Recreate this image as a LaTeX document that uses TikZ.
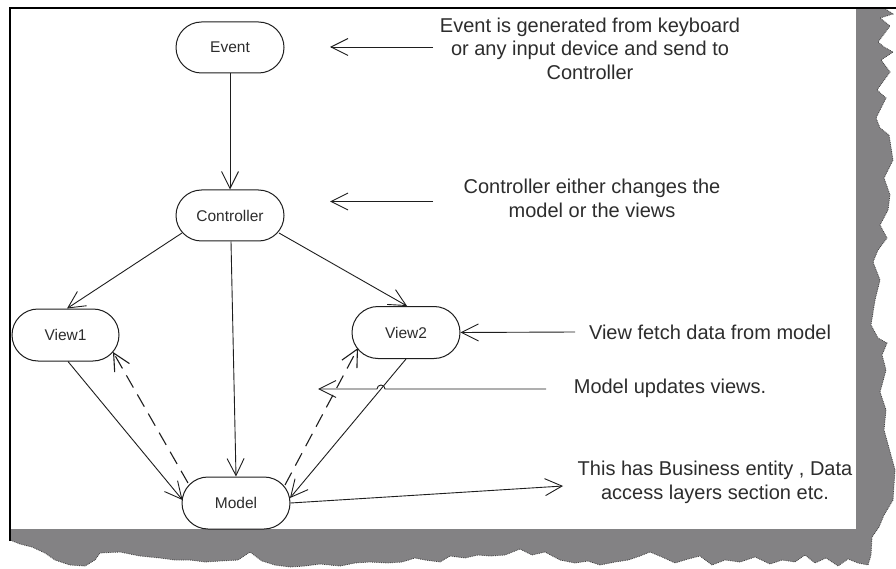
\documentclass[tikz,border=0pt]{standalone}
\usepackage{fontspec}
\setmainfont{Liberation Sans}
\usetikzlibrary{arrows.meta,shapes.misc,calc}
\definecolor{shadowgray}{RGB}{131,130,132}
\definecolor{txt}{RGB}{45,45,45}
\definecolor{ln}{RGB}{30,30,30}
\def\torn{(884,8) -- (893,14) -- (880,18) -- (890,26) -- (878,42) -- (884,47) -- (893,52) -- (881,60) -- (890,72) -- (877,90) -- (886,98) -- (876,118) -- (880,128) -- (889,135) -- (893,160) -- (884,178) -- (890,195) -- (888,210) -- (880,225) -- (887,238) -- (878,250) -- (873,262) -- (880,280) -- (875,300) -- (871,325) -- (878,338) -- (887,343) -- (882,355) -- (886,370) -- (880,392) -- (886,410) -- (884,430) -- (889,448) -- (895,470) -- (893,500) -- (884,515) -- (879,527) -- (872,537) -- (871,555) -- (868,565) -- (858,563) -- (848,559) -- (838,566) -- (826,558) -- (815,563) -- (805,555) -- (795,562) -- (782,560) -- (770,564) -- (755,557) -- (740,562) -- (725,560) -- (712,565) -- (700,556) -- (688,559) -- (675,563) -- (662,557) -- (650,552) -- (640,556) -- (628,560) -- (615,562) -- (600,565) -- (588,561) -- (575,563) -- (560,560) -- (545,552) -- (532,555) -- (520,549) -- (505,555) -- (490,556) -- (478,555) -- (465,558) -- (450,556) -- (440,562) -- (425,560) -- (415,558) -- (402,562) -- (388,563) -- (370,562) -- (355,563) -- (340,566) -- (320,564) -- (305,566) -- (290,567) -- (275,565) -- (262,561) -- (250,552) -- (238,560) -- (220,561) -- (205,562) -- (190,560) -- (175,560) -- (160,558) -- (140,556) -- (120,552) -- (100,553) -- (95,560) -- (85,566) -- (70,565) -- (55,560) -- (45,553) -- (32,547) -- (20,544) -- (10,540)}
\begin{document}
\begin{tikzpicture}[x=1pt,y=-1pt,
  box/.style={rounded rectangle, draw=ln, line width=1pt, minimum width=108pt, minimum height=51pt, inner sep=0pt, font=\fontsize{15.5}{18}\selectfont, text=txt},
  link/.style={line width=0.9pt, draw=ln, -{Straight Barb[length=17pt,width=17pt]}},
  dlink/.style={link, line width=1.1pt, dash pattern=on 14pt off 8pt},
  note/.style={font=\fontsize{20}{23.5}\selectfont, text=txt, align=center, inner sep=0pt}]
\useasboundingbox (0,0) rectangle (896,569);
\fill[white] (0,0) rectangle (896,569);
% torn shadow
\fill[shadowgray] (10,529) -- (856,529) -- (856,8) -- \torn -- cycle;
\draw[black!75, line width=0.8pt, densely dotted] \torn;
\draw[black, line width=1.2pt] (10,541) -- (10,8) -- (896,8);
% nodes
\node[box] (Event) at (230,47.5) {Event};
\node[box] (Controller) at (230,215.5) {Controller};
\node[box, minimum width=107pt, minimum height=52pt] (View1) at (65.5,335) {View1};
\node[box, minimum height=52pt] (View2) at (406,332.5) {View2};
\node[box, minimum height=52pt] (Model) at (236,503) {Model};
% notes
\node[note] (t1) at (590,48.5) {Event is generated from keyboard\\or any input device and send to\\Controller};
\node[note] (t2) at (592,198.5) {Controller either changes the\\model or the views};
\node[note] (t3) at (710,332) {View fetch data from model};
\node[note] (t4) at (670,388) {Model updates views.};
\node[note] (t5) at (715,482.5) {This has Business entity , Data\\access layers section etc.};
% main connectors
\draw[link] (Event.south) -- (Controller.north);
\draw[link] ($(Controller)+(-48,17.5)$) -- ($(View1.north)+(1.5,0)$);
\draw[link] ($(Controller)+(49,17.5)$) -- ($(View2.north)+(1,0)$);
\draw[link] ($(Controller.south)+(1,0)$) -- (Model.north);
\draw[link] ($(View1.south)+(2.5,0)$) -- ($(Model.west)+(1,-3)$);
\draw[link] (View2.south) -- ($(Model)+(54,-5)$);
\draw[dlink] ($(Model)+(-48,-20)$) -- ($(View1)+(47.5,17)$);
\draw[dlink] ($(Model)+(49,-18)$) -- ($(View2)+(-48,15.5)$);
% annotation arrows
\coordinate (a1s) at (433,47);   \coordinate (a1e) at (330,47);
\coordinate (a2s) at (433,201.5); \coordinate (a2e) at (330,201.5);
\coordinate (a3s) at (575,332);
\coordinate (a4s) at (546,389);  \coordinate (a4e) at (318,389);
\coordinate (hopR) at (385,389);
\coordinate (a5e) at (563,486);
\draw[link] (a1s) -- (a1e);
\draw[link] (a2s) -- (a2e);
\draw[link] (a3s) -- (View2.east);
\draw[link] (a4s) -- (hopR) arc[start angle=0, end angle=180, radius=4pt] -- (a4e);
\draw[link] (Model.east) -- (a5e);
\end{tikzpicture}
\end{document}
